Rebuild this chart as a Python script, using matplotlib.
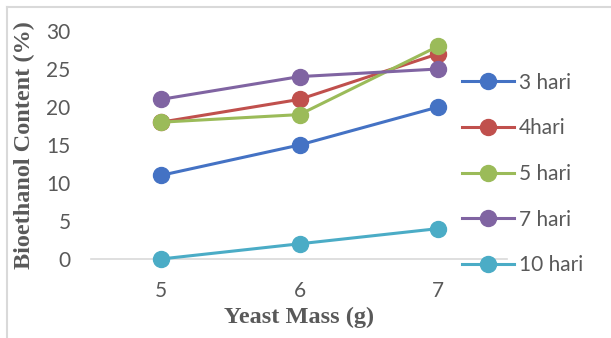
import matplotlib
matplotlib.use('Agg')
import matplotlib.pyplot as plt
from matplotlib.lines import Line2D

# data
yeast_mass = ['5', '6', '7']
series_names = ['3 hari', '4hari', '5 hari', '7 hari', '10 hari']
hari3 = [11, 15, 20]
hari4 = [18, 21, 27]
hari5 = [18, 19, 28]
hari7 = [21, 24, 25]
hari10 = [0, 2, 4]
colors = ['#4472C4', '#C0504D', '#9BBB59', '#8064A2', '#4BACC6']

grey_txt = '#595959'
plt.rcParams['font.family'] = ['Lato', 'DejaVu Sans']

W, H = 611, 338
fig = plt.figure(figsize=(W / 100, H / 100), dpi=100)
ax = fig.add_axes([91.5 / W, (H - 259) / H, 416 / W, 228 / H])

x = list(range(len(yeast_mass)))
for name, vals, c in zip(series_names, [hari3, hari4, hari5, hari7, hari10], colors):
    ax.plot(x, vals, color=c, lw=2.2, marker='o', markersize=11.5,
            label=name, clip_on=False, zorder=3)

ax.set_xlim(-0.5, 2.5)
ax.set_ylim(0, 30)
ax.set_yticks(range(0, 31, 5))
ax.set_xticks(x)
ax.set_xticklabels(yeast_mass)
for s in ['top', 'right', 'left']:
    ax.spines[s].set_visible(False)
ax.spines['bottom'].set_color('#D9D9D9')
ax.spines['bottom'].set_linewidth(1.2)
ax.tick_params(length=0, labelsize=15, labelcolor=grey_txt)
ax.tick_params(axis='y', pad=15)
ax.tick_params(axis='x', pad=16)

ax.set_xlabel('Yeast Mass (g)', family='Liberation Serif', fontweight='bold',
              fontsize=17.5, color=grey_txt, labelpad=4)
ax.set_ylabel('Bioethanol Content (%)', family='Liberation Serif', fontweight='bold',
              fontsize=17.5, color=grey_txt, labelpad=8)

fig.legend(loc='center left', bbox_to_anchor=(443 / W, (H - 174) / H),
           frameon=False, fontsize=15, handlelength=2.5, labelspacing=1.23,
           handletextpad=0.25, labelcolor=grey_txt)

# outer chart border (top and left visible)
fig.add_artist(Line2D([7.5 / W, 1], [(H - 6.5) / H] * 2, transform=fig.transFigure,
                      color='#D9D9D9', lw=1.5))
fig.add_artist(Line2D([7.5 / W] * 2, [0, (H - 6.5) / H], transform=fig.transFigure,
                      color='#D9D9D9', lw=1.5))

fig.savefig('out.png', dpi=100)
